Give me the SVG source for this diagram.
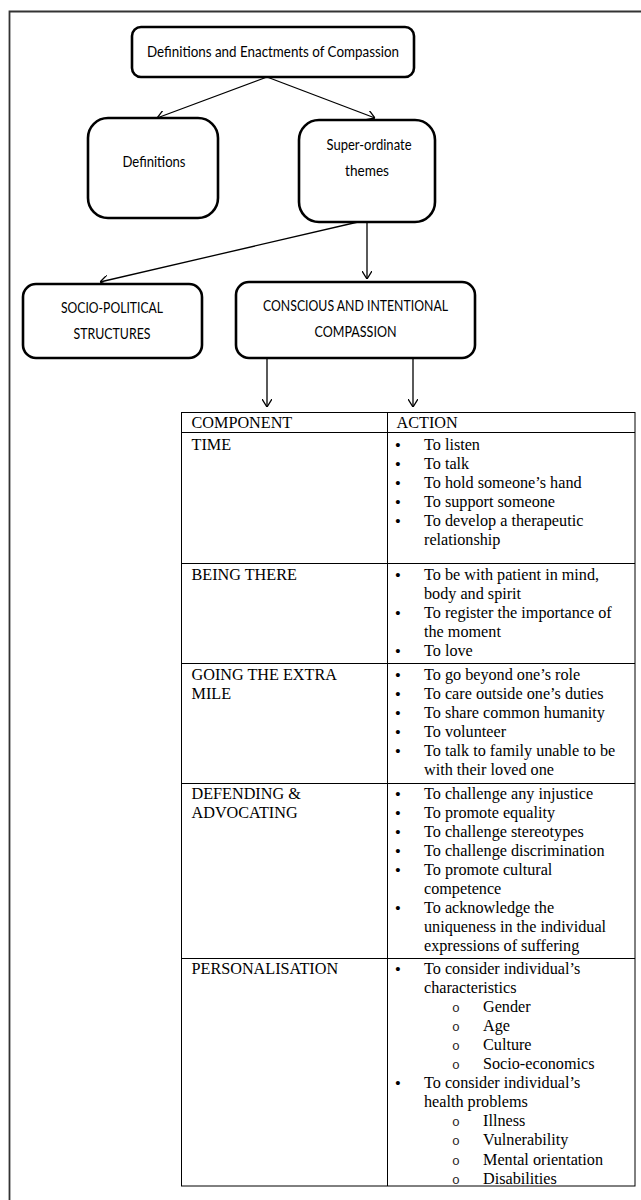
<svg xmlns="http://www.w3.org/2000/svg" width="641" height="1200" viewBox="0 0 641 1200">
<style>
.box{fill:#fff;stroke:#000;stroke-width:2.6}
.lbl{font-family:Lato,"Liberation Sans",sans-serif;font-size:15px;fill:#000;text-anchor:middle}
.conn{fill:none;stroke:#000;stroke-width:1.3}
.grid{fill:none;stroke:#000;stroke-width:1}
.t{font-family:"Liberation Serif","Times New Roman",serif;font-size:16.2px;fill:#000}
.b{font-family:"Liberation Sans",sans-serif;font-size:15px;fill:#000;text-anchor:middle}
.o{font-family:"Liberation Mono","Courier New",monospace;font-size:13px;fill:#222;text-anchor:middle}
</style>
<defs>
<marker id="ah" viewBox="0 0 8 10" refX="8" refY="5" markerWidth="8" markerHeight="10" markerUnits="userSpaceOnUse" orient="auto">
<path d="M0,0 L8,5 L0,10" fill="none" stroke="#000" stroke-width="1.3"/>
</marker>
</defs>
<rect width="641" height="1200" fill="#fff"/>
<g id="frame">
<path d="M9.5,1200 V11.5 H641" fill="none" stroke="#333" stroke-width="1.8"/>
</g>
<g id="connectors">
<line class="conn" x1="267" y1="77" x2="157" y2="118" marker-end="url(#ah)"/>
<line class="conn" x1="267" y1="77" x2="375" y2="118" marker-end="url(#ah)"/>
<line class="conn" x1="358" y1="222" x2="100" y2="282" marker-end="url(#ah)"/>
<line class="conn" x1="367" y1="222" x2="367" y2="279" marker-end="url(#ah)"/>
<line class="conn" x1="267" y1="358" x2="267" y2="407" marker-end="url(#ah)"/>
<line class="conn" x1="413" y1="358" x2="413" y2="407" marker-end="url(#ah)"/>
</g>
<g id="node-root">
<rect class="box" x="132" y="27" width="282" height="50" rx="9"/>
<text class="lbl" x="273" y="57" textLength="252" lengthAdjust="spacingAndGlyphs">Definitions and Enactments of Compassion</text>
</g>
<g id="node-definitions">
<rect class="box" x="88" y="118" width="130" height="100" rx="20"/>
<text class="lbl" x="154" y="167" textLength="63" lengthAdjust="spacingAndGlyphs">Definitions</text>
</g>
<g id="node-superordinate">
<rect class="box" x="299" y="120" width="136" height="102" rx="20"/>
<text class="lbl" x="369" y="150" textLength="85" lengthAdjust="spacingAndGlyphs">Super-ordinate</text>
<text class="lbl" x="367" y="176" textLength="44" lengthAdjust="spacingAndGlyphs">themes</text>
</g>
<g id="node-sociopolitical">
<rect class="box" x="23" y="284" width="179" height="74" rx="13"/>
<text class="lbl" x="112" y="313" textLength="102" lengthAdjust="spacingAndGlyphs">SOCIO-POLITICAL</text>
<text class="lbl" x="112" y="339" textLength="77" lengthAdjust="spacingAndGlyphs">STRUCTURES</text>
</g>
<g id="node-conscious">
<rect class="box" x="236" y="282" width="239" height="76" rx="13"/>
<text class="lbl" x="355.5" y="311" textLength="185" lengthAdjust="spacingAndGlyphs">CONSCIOUS AND INTENTIONAL</text>
<text class="lbl" x="355.5" y="337" textLength="82" lengthAdjust="spacingAndGlyphs">COMPASSION</text>
</g>
<g id="table">
<rect class="grid" x="181.5" y="412.5" width="453.5" height="773.5"/>
<line class="grid" x1="387.5" y1="412.5" x2="387.5" y2="1186"/>
<line class="grid" x1="181.5" y1="432.5" x2="635" y2="432.5"/>
<line class="grid" x1="181.5" y1="563.5" x2="635" y2="563.5"/>
<line class="grid" x1="181.5" y1="663.5" x2="635" y2="663.5"/>
<line class="grid" x1="181.5" y1="783.5" x2="635" y2="783.5"/>
<line class="grid" x1="181.5" y1="958.5" x2="635" y2="958.5"/>
<g class="t">
<text x="191.5" y="428">COMPONENT</text>
<text x="396.5" y="428">ACTION</text>
<text x="191.5" y="449.5">TIME</text>
<text x="191.5" y="579.5">BEING THERE</text>
<text x="191.5" y="679.5">GOING THE EXTRA</text>
<text x="191.5" y="698.6">MILE</text>
<text x="191.5" y="798.5">DEFENDING &amp;</text>
<text x="191.5" y="817.6">ADVOCATING</text>
<text x="191.5" y="973.5">PERSONALISATION</text>
</g>
<g id="time-actions">
<text class="b" x="398" y="449.5">•</text><text class="t" x="424" y="449.5">To listen</text>
<text class="b" x="398" y="468.6">•</text><text class="t" x="424" y="468.6">To talk</text>
<text class="b" x="398" y="487.7">•</text><text class="t" x="424" y="487.7">To hold someone’s hand</text>
<text class="b" x="398" y="506.8">•</text><text class="t" x="424" y="506.8">To support someone</text>
<text class="b" x="398" y="525.9">•</text><text class="t" x="424" y="525.9">To develop a therapeutic</text>
<text class="t" x="424" y="545">relationship</text>
</g>
<g id="being-actions">
<text class="b" x="398" y="579.5">•</text><text class="t" x="424" y="579.5">To be with patient in mind,</text>
<text class="t" x="424" y="598.6">body and spirit</text>
<text class="b" x="398" y="617.7">•</text><text class="t" x="424" y="617.7">To register the importance of</text>
<text class="t" x="424" y="636.8">the moment</text>
<text class="b" x="398" y="655.9">•</text><text class="t" x="424" y="655.9">To love</text>
</g>
<g id="going-actions">
<text class="b" x="398" y="679.5">•</text><text class="t" x="424" y="679.5">To go beyond one’s role</text>
<text class="b" x="398" y="698.6">•</text><text class="t" x="424" y="698.6">To care outside one’s duties</text>
<text class="b" x="398" y="717.7">•</text><text class="t" x="424" y="717.7">To share common humanity</text>
<text class="b" x="398" y="736.8">•</text><text class="t" x="424" y="736.8">To volunteer</text>
<text class="b" x="398" y="755.9">•</text><text class="t" x="424" y="755.9">To talk to family unable to be</text>
<text class="t" x="424" y="775">with their loved one</text>
</g>
<g id="defending-actions">
<text class="b" x="398" y="798.5">•</text><text class="t" x="424" y="798.5">To challenge any injustice</text>
<text class="b" x="398" y="817.6">•</text><text class="t" x="424" y="817.6">To promote equality</text>
<text class="b" x="398" y="836.7">•</text><text class="t" x="424" y="836.7">To challenge stereotypes</text>
<text class="b" x="398" y="855.8">•</text><text class="t" x="424" y="855.8">To challenge discrimination</text>
<text class="b" x="398" y="874.9">•</text><text class="t" x="424" y="874.9">To promote cultural</text>
<text class="t" x="424" y="894">competence</text>
<text class="b" x="398" y="913.1">•</text><text class="t" x="424" y="913.1">To acknowledge the</text>
<text class="t" x="424" y="932.2">uniqueness in the individual</text>
<text class="t" x="424" y="951.3">expressions of suffering</text>
</g>
<g id="personalisation-actions">
<text class="b" x="398" y="973.5">•</text><text class="t" x="424" y="973.5">To consider individual’s</text>
<text class="t" x="424" y="992.6">characteristics</text>
<text class="o" x="456" y="1011.7">o</text><text class="t" x="483" y="1011.7">Gender</text>
<text class="o" x="456" y="1030.8">o</text><text class="t" x="483" y="1030.8">Age</text>
<text class="o" x="456" y="1049.9">o</text><text class="t" x="483" y="1049.9">Culture</text>
<text class="o" x="456" y="1069">o</text><text class="t" x="483" y="1069">Socio-economics</text>
<text class="b" x="398" y="1088.1">•</text><text class="t" x="424" y="1088.1">To consider individual’s</text>
<text class="t" x="424" y="1107.2">health problems</text>
<text class="o" x="456" y="1126.3">o</text><text class="t" x="483" y="1126.3">Illness</text>
<text class="o" x="456" y="1145.4">o</text><text class="t" x="483" y="1145.4">Vulnerability</text>
<text class="o" x="456" y="1164.5">o</text><text class="t" x="483" y="1164.5">Mental orientation</text>
<text class="o" x="456" y="1183.6">o</text><text class="t" x="483" y="1183.6">Disabilities</text>
</g>
</g>
</svg>
